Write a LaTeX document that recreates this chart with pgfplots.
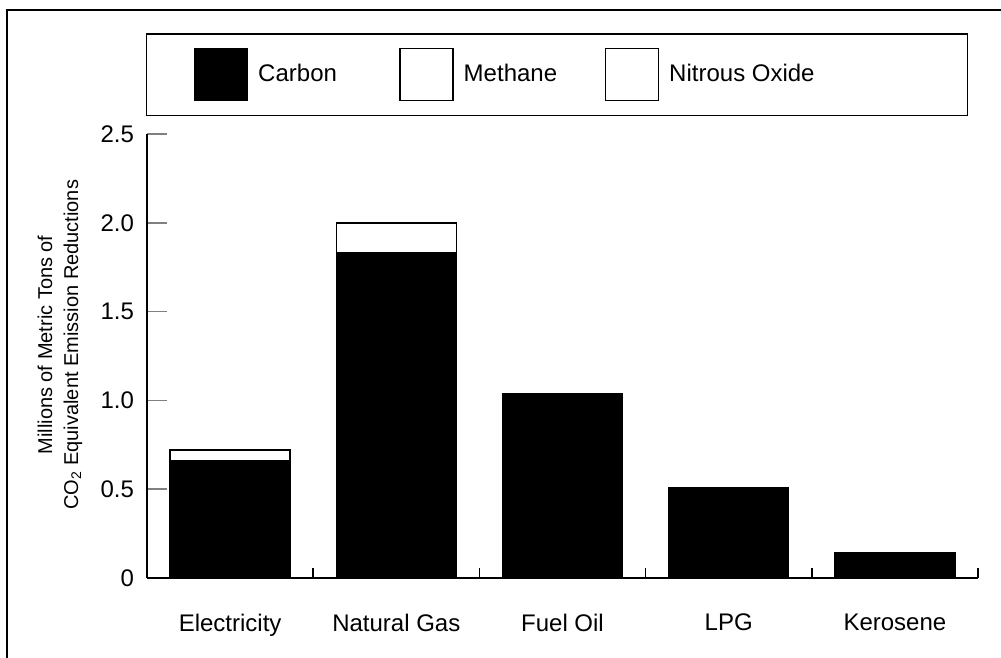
\documentclass[border=0pt]{standalone}
\usepackage{pgfplots}
\pgfplotsset{compat=1.18}
\usepackage{fontspec}
\setmainfont{Liberation Sans}
\begin{document}
\begin{tikzpicture}
\path[use as bounding box] (0,0) rectangle (500.5pt,329pt);
\begin{axis}[
  at={(73.5pt,40pt)}, anchor=south west,
  scale only axis, width=415.5pt, height=222pt,
  ybar stacked, bar width=60pt,
  xmin=-0.5, xmax=4.5, ymin=0, ymax=2.5,
  enlargelimits=false,
  axis x line*=bottom, axis y line*=left,
  axis line style={line width=0.75pt},
  tick align=inside,
  /pgf/number format/assume math mode=true,
  xtick={0,1,2,3,4},
  xticklabels={Electricity,Natural Gas,Fuel Oil,LPG,Kerosene},
  xtick style={draw=none},
  ytick={0,0.5,1,1.5,2,2.5},
  yticklabels={0,0.5,1.0,1.5,2.0,2.5},
  major tick length=10pt,
  ytick style={line width=0.75pt},
  tick label style={font=\fontsize{12}{14}\selectfont},
  yticklabel style={xshift=-3pt},
  xticklabel style={yshift=-14.5pt},
  ylabel={Millions of Metric Tons of\\CO\textsubscript{2} Equivalent Emission Reductions},
  ylabel style={at={(axis description cs:-0.1047,0.525)}, anchor=center, align=center, font=\fontsize{10}{13}\selectfont},
  legend columns=3,
  legend cell align=left,
  legend style={at={(axis description cs:-0.0012,1.0405)}, anchor=south west,
    draw=black, line width=0.75pt, inner xsep=23.5pt, inner ysep=7pt,
    column sep=0pt,
    /tikz/every odd column/.append style={column sep=3pt},
    /tikz/every even column/.append style={column sep=5pt},
    nodes={inner sep=2pt, font=\fontsize{12}{14}\selectfont}},
]
\addplot[fill=black, draw=black, line width=0.75pt,
  legend image code/.code={\draw[fill=black,draw=black,line width=0.75pt] (0pt,-13pt) rectangle (26.5pt,13pt);}]
  coordinates {(0,0.66) (1,1.83) (2,1.04) (3,0.51) (4,0.14)};
\addlegendentry{\makebox[63.5pt][l]{Carbon}}
\addplot[fill=white, draw=black, line width=0.75pt,
  legend image code/.code={\draw[fill=white,draw=black,line width=0.75pt] (0pt,-13pt) rectangle (26.5pt,13pt);}]
  coordinates {(0,0.06) (1,0.17) (2,0) (3,0) (4,0)};
\addlegendentry{\makebox[63.5pt][l]{Methane}}
\addplot[fill=white, draw=black, line width=0.75pt,
  legend image code/.code={\draw[fill=white,draw=black,line width=0.75pt] (0pt,-13pt) rectangle (26.5pt,13pt);}]
  coordinates {(0,0) (1,0) (2,0) (3,0) (4,0)};
\addlegendentry{\makebox[123.5pt][l]{Nitrous Oxide}}
\end{axis}
\begin{axis}[
  at={(73.5pt,40pt)}, anchor=south west,
  scale only axis, width=415.5pt, height=222pt,
  xmin=-0.5, xmax=4.5, ymin=0, ymax=2.5,
  enlargelimits=false,
  axis x line*=bottom, hide y axis,
  axis line style={line width=0.75pt},
  tick align=inside,
  xtick={0.5,1.5,2.5,3.5,4.5},
  xticklabels={},
  major tick length=5pt,
  xtick style={draw=black, line width=0.75pt},
]
\end{axis}
\draw[line width=1pt] (3.5pt,0) -- (3.5pt,324pt) -- (500.5pt,324pt);
\end{tikzpicture}
\end{document}
